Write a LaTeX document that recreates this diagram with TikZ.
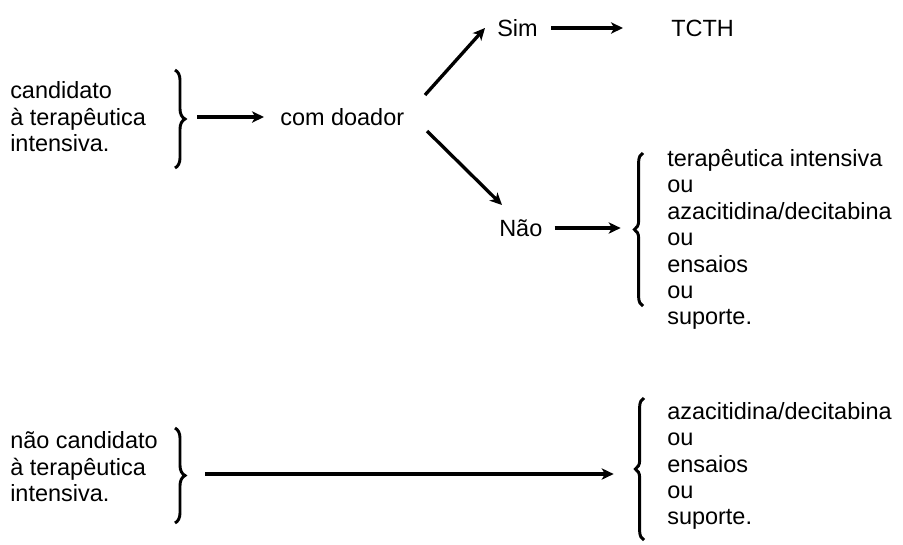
\documentclass[tikz,border=0pt]{standalone}
\usepackage{fontspec}
\setmainfont{Liberation Sans}
\usetikzlibrary{arrows.meta,decorations.pathreplacing}
\begin{document}
\begin{tikzpicture}[x=0.75pt,y=-0.75pt,
  txt/.style={font=\fontsize{17.6}{19.8}\selectfont, inner sep=0pt, anchor=west, align=left},
  arr/.style={line width=2.5pt, -{Stealth[length=9pt,width=8.5pt,inset=2.5pt]}},
  brc/.style={line width=2.2pt, decorate, decoration={brace, amplitude=7.5pt}},
  brcr/.style={line width=2.2pt, decorate, decoration={brace, amplitude=6.5pt}}]
\useasboundingbox (0,0) rectangle (903,544);
% text nodes
\node[txt] (cand) at (10,117) {candidato\\à terapêutica\\intensiva.};
\node[txt] (doador) at (280,117) {com doador};
\node[txt] (sim) at (497,28) {Sim};
\node[txt] (tcth) at (671,28) {TCTH};
\node[txt] (nao) at (499,228) {Não};
\node[txt] (opt1) at (667,239.5) {terapêutica intensiva\\ou\\azacitidina/decitabina\\ou\\ensaios\\ou\\suporte.};
\node[txt] (ncand) at (10,467) {não candidato\\à terapêutica\\intensiva.};
\node[txt] (opt2) at (667,466) {azacitidina/decitabina\\ou\\ensaios\\ou\\suporte.};
% braces
\draw[brc] (175,70) -- (175,168);
\coordinate (b1) at (185,117);
\draw[brcr] (643,306) -- (643,153);
\coordinate (b2) at (634,228);
\draw[brc] (175,428) -- (175,523);
\coordinate (b3) at (185,474);
\draw[brcr] (644,540) -- (644,398);
\coordinate (b4) at (635,474);
% connectors
\draw[arr, shorten <=9pt, shorten >=12pt] (b1) -- (doador.west);
\coordinate (d1) at (425,95);
\coordinate (d2) at (427,131);
\draw[arr] (d1) -- ([shift={(-12,0)}]sim.west);
\draw[arr] (d2) -- ([shift={(3,-23)}]nao.west);
\draw[arr, shorten <=10pt, shorten >=36pt] (sim.east) -- (tcth.west);
\draw[arr, shorten <=9pt, shorten >=10pt] (nao.east) -- (b2);
\draw[arr, shorten <=15pt, shorten >=16pt] (b3) -- (b4);
\end{tikzpicture}
\end{document}
